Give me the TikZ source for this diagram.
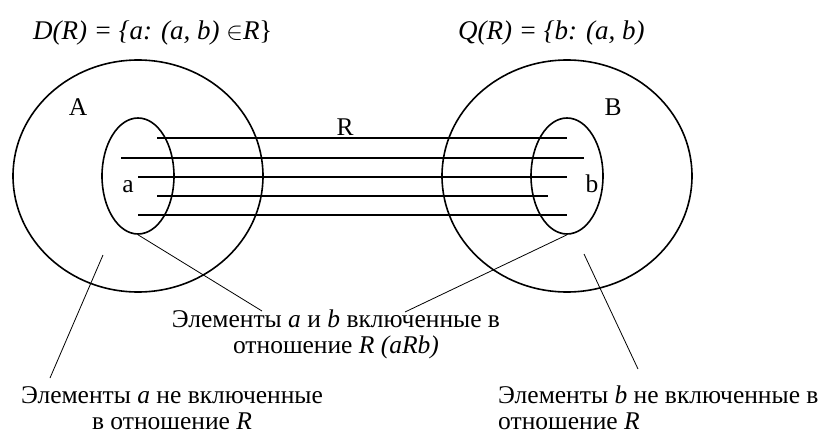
\documentclass[tikz,border=0pt]{standalone}
\usepackage{fontspec}
\setmainfont{Liberation Serif}
\usetikzlibrary{shapes.geometric}
\begin{document}
\begin{tikzpicture}[x=1pt, y=-1pt, font=\fontsize{25.5}{26}\selectfont,
  big/.style={draw, ellipse, line width=1.6pt, minimum width=250pt, minimum height=232pt, inner sep=0pt},
  small/.style={draw, ellipse, line width=1.6pt, minimum width=72pt, minimum height=116pt, inner sep=0pt},
  pair/.style={line width=1.8pt},
  callout/.style={line width=0.8pt},
  lbl/.style={inner sep=0pt, anchor=base},
  formula/.style={inner sep=0pt, anchor=base west, font=\fontsize{27}{26}\selectfont}]
% Рамка
\useasboundingbox (0,0) rectangle (835,436);

% Множества A и B
\node[big] (A) at (138,176) {};
\node[small] (a) at (138,176) {};
\node[big] (B) at (567,176) {};
\node[small] (b) at (567,176) {};

% Пары отношения R
\foreach \xa/\xb/\y in {157/567/138, 121/584/158, 138/567/177, 157/548/196, 138/567/215}
  \draw[pair] (\xa,\y) -- (\xb,\y);

% Обозначения
\node[lbl] (labA) at (78,115) {A};
\node[lbl] (labR) at (345,135) {R};
\node[lbl] (laba) at (128,192) {a};
\node[lbl] (labB) at (613,115) {B};
\node[lbl] (labb) at (592,192) {b};
\node[formula] (dom) at (33,40) {\textit{D(R) = \{a: (a, b) }$\in$\textit{R}\}};
\node[formula] (ran) at (458,40) {\textit{Q(R) = \{b: (a, b)}};

% Подписи (base = последняя строка)
\node[lbl, align=center] (inc) at (336,353) {Элементы \textit{a} и \textit{b} включенные в\\отношение \textit{R (aRb)}};
\node[lbl, align=center] (notA) at (172,429) {Элементы \textit{a} не включенные\\в отношение \textit{R}};
\node[lbl, anchor=base west, align=left] (notB) at (498,429) {Элементы \textit{b} не включенные в\\отношение \textit{R}};

% Выноски
\coordinate (pa) at (262,311);
\coordinate (pb) at (405,312);
\coordinate (qa) at (103,255);
\coordinate (ra) at (50,378);
\coordinate (qb) at (584,254);
\coordinate (rb) at (638,369);
\draw[callout] (a.south) -- (pa);
\draw[callout] (b.south) -- (pb);
\draw[callout] (qa) -- (ra);
\draw[callout] (qb) -- (rb);
\end{tikzpicture}
\end{document}
